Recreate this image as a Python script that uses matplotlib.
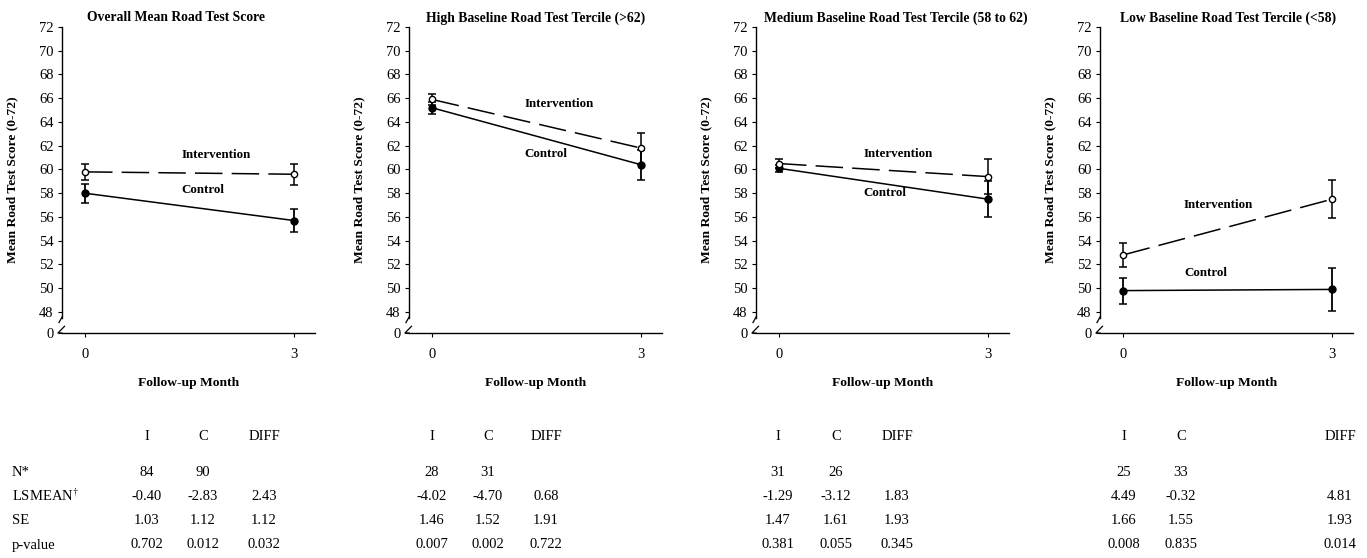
import matplotlib
matplotlib.use('Agg')
import matplotlib.pyplot as plt
import numpy as np

plt.rcParams['font.family'] = ['Liberation Serif', 'DejaVu Serif']
plt.rcParams['mathtext.fontset'] = 'stix'

# ---- data ----
months = [0, 3]
titles = ['Overall Mean Road Test Score',
          'High Baseline Road Test Tercile (>62)',
          'Medium Baseline Road Test Tercile (58 to 62)',
          'Low Baseline Road Test Tercile (<58)']

int_mean = [[59.8, 59.6], [65.9, 61.8], [60.5, 59.4], [52.8, 57.5]]
int_err = [[0.7, 0.9], [0.45, 1.3], [0.35, 1.5], [1.0, 1.6]]
ctl_mean = [[58.0, 55.7], [65.2, 60.4], [60.1, 57.5], [49.8, 49.9]]
ctl_err = [[0.8, 1.0], [0.5, 1.25], [0.3, 1.5], [1.1, 1.8]]

y_ticks = [0] + list(range(48, 73, 2))

# table
col_heads = ['I', 'C', 'DIFF']
row_names = ['N*', r'LSMEAN$^{\dagger}$', 'SE', 'p-value']
n_vals = [['84', '90', ''], ['28', '31', ''], ['31', '26', ''], ['25', '33', '']]
lsmean = [['-0.40', '-2.83', '2.43'], ['-4.02', '-4.70', '0.68'],
          ['-1.29', '-3.12', '1.83'], ['4.49', '-0.32', '4.81']]
se_vals = [['1.03', '1.12', '1.12'], ['1.46', '1.52', '1.91'],
           ['1.47', '1.61', '1.93'], ['1.66', '1.55', '1.93']]
p_vals = [['0.702', '0.012', '0.032'], ['0.007', '0.002', '0.722'],
          ['0.381', '0.055', '0.345'], ['0.008', '0.835', '0.014']]

# ---- layout (pixels) ----
W, H = 1367, 558
ax_left = [62, 409, 756, 1100]
ax_w, ax_top, ax_bot = 253, 27, 333
title_x = [0.45, 0.5, 0.553, 0.506]
int_lab = [(1.38, 61.2), (1.33, 65.5), (1.22, 61.3), (0.875, 57.0)]
ctl_lab = [(1.38, 58.25), (1.33, 61.3), (1.21, 58.0), (0.875, 51.3)]
tab_cols = [[147, 203, 264], [432, 488, 546], [778, 836, 897], [1124, 1181, 1340]]
tab_rows = [437, 472, 496, 521, 545]

# broken y axis: 0 sits a short gap below 48
GAP = 1.77


def fwd(y):
    y = np.asarray(y, dtype=float)
    return np.where(y >= 48, y, 48 - GAP + y * GAP / 48)


def inv(v):
    v = np.asarray(v, dtype=float)
    return np.where(v >= 48, v, (v - (48 - GAP)) * 48 / GAP)


fig = plt.figure(figsize=(W / 100, H / 100), dpi=100)

for i in range(4):
    ax = fig.add_axes([ax_left[i] / W, 1 - ax_bot / H, ax_w / W, (ax_bot - ax_top) / H])
    ax.set_yscale('function', functions=(fwd, inv))
    ax.set_ylim(0, 72)
    ax.set_xlim(-0.33, 3.30)

    # lines
    ax.plot(months, ctl_mean[i], color='black', lw=1.1, zorder=2)
    ax.plot(months, int_mean[i], color='black', lw=1.1, dashes=(18, 6), zorder=2)
    ax.errorbar(months, ctl_mean[i], yerr=ctl_err[i], fmt='o', color='black',
                ms=5, elinewidth=1.3, capsize=3, capthick=1.1, zorder=3)
    ax.errorbar(months, int_mean[i], yerr=int_err[i], fmt='o', color='black',
                mfc='white', mec='black', ms=4.5, elinewidth=1.1, capsize=3,
                capthick=1.1, zorder=4)

    ax.text(*int_lab[i], 'Intervention', fontsize=9.4, fontweight='bold', va='center', ha='left')
    ax.text(*ctl_lab[i], 'Control', fontsize=9.4, fontweight='bold', va='center', ha='left')

    ax.set_title(titles[i], fontsize=9.8, fontweight='bold', x=title_x[i], pad=4)
    ax.set_ylabel('Mean Road Test Score (0-72)', fontsize=9.7, fontweight='bold')
    ax.yaxis.set_label_coords(-44 / ax_w, 0.5)
    ax.set_xlabel('Follow-up Month', fontsize=9.7, fontweight='bold')
    ax.xaxis.set_label_coords(0.5, -50 / (ax_bot - ax_top))
    ax.xaxis.label.set_va('center')

    ax.set_yticks(y_ticks)
    ax.set_yticklabels([str(t) for t in y_ticks])
    ax.set_xticks(months)
    ax.tick_params(axis='y', direction='out', length=3, width=0.8, pad=3, labelsize=10.5)
    ax.tick_params(axis='x', direction='out', length=3, width=0.8, pad=8, labelsize=10.5)

    for s in ['top', 'right']:
        ax.spines[s].set_visible(False)
    ax.spines['left'].set_bounds(34, 72)
    ax.spines['left'].set_linewidth(1.0)
    ax.spines['bottom'].set_linewidth(1.0)

    # break marks
    ax.plot([0, -0.012], [0.052, 0.034], transform=ax.transAxes, color='black',
            lw=0.9, clip_on=False)
    ax.plot([0.010, -0.016, 0.0], [0.022, 0.0, 0.0], transform=ax.transAxes,
            color='black', lw=0.9, clip_on=False)

# ---- table below the panels ----
fs = 10.5
for r, name in enumerate(row_names):
    fig.text(12 / W, 1 - tab_rows[r + 1] / H, name, fontsize=fs, ha='left', va='center')

for i in range(4):
    rows = [col_heads, n_vals[i], lsmean[i], se_vals[i], p_vals[i]]
    for r, row in enumerate(rows):
        for c, val in enumerate(row):
            fig.text(tab_cols[i][c] / W, 1 - tab_rows[r] / H, val, fontsize=fs,
                     ha='center', va='center')

fig.savefig('out.png', dpi=100)
